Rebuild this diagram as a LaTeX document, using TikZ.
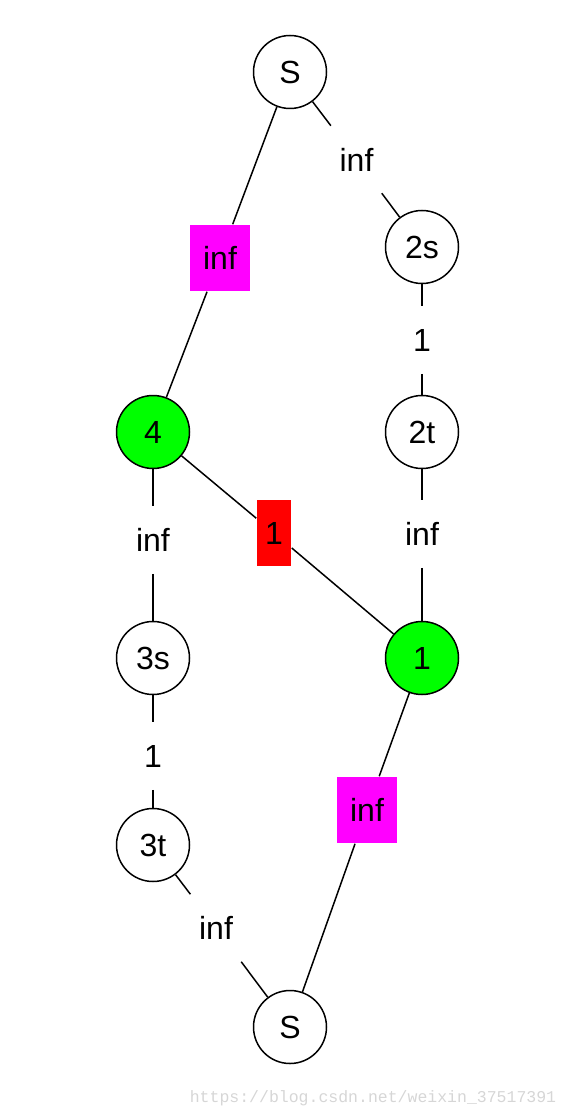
\documentclass[tikz,border=0pt]{standalone}
\usepackage{fontspec}
\setmainfont{Liberation Sans}
\newfontfamily\wmfont{Liberation Mono}
\usetikzlibrary{positioning}

\definecolor{vgreen}{HTML}{00FF00}
\definecolor{vmagenta}{HTML}{FF00FF}
\definecolor{vred}{HTML}{FF0000}

\begin{document}
\begin{tikzpicture}[x=1pt,y=-1pt,line width=1.5pt,
    font=\fontsize{32}{38}\selectfont,
    vtx/.style={draw,circle,minimum size=73pt,inner sep=0pt},
    lbl/.style={inner sep=0pt,minimum height=66pt,minimum width=50pt},
    lblbox/.style={lbl,minimum width=#1}]
\useasboundingbox (0,0) rectangle (570,1118);
% vertices
\path (290,72) node[vtx] (s1) {S}
   (422,247) node[vtx] (v2s) {2s}
   (422,432) node[vtx] (v2t) {2t}
   (153,432) node[vtx,fill=vgreen] (v4) {4}
   (153,658) node[vtx] (v3s) {3s}
   (422,658) node[vtx,fill=vgreen] (v1) {1}
   (153,845) node[vtx] (v3t) {3t}
   (290,1027) node[vtx] (s2) {S};
% edge labels
\path (356.5,159.5) node[lbl] (lS2s) {inf}
   (220,258) node[lblbox=60pt,fill=vmagenta] (lS4) {inf}
   (422,340) node[lbl] (l2s2t) {1}
   (153,540) node[lbl] (l43s) {inf}
   (274,533) node[lblbox=34pt,fill=vred] (l41) {1}
   (422,534) node[lbl] (l2t1) {inf}
   (153,756) node[lbl] (l3s3t) {1}
   (367,810) node[lblbox=60pt,fill=vmagenta] (l1S) {inf}
   (216,928) node[lbl] (l3tS) {inf};
\draw (s1) -- (lS2s) -- (v2s);
\draw (s1) -- (lS4) -- (v4);
\draw (v2s) -- (l2s2t) -- (v2t);
\draw (v4) -- (l43s) -- (v3s);
\draw (v4) -- (l41) -- (v1);
\draw (v2t) -- (l2t1) -- (v1);
\draw (v3s) -- (l3s3t) -- (v3t);
\draw (v1) -- (l1S) -- (s2);
\draw (v3t) -- (l3tS) -- (s2);
\node[text=black!16,font=\wmfont\fontsize{16.5}{18}\selectfont,inner sep=0pt]
   (wm) at (373,1098) {https://blog.csdn.net/weixin\_37517391};
\end{tikzpicture}
\end{document}
